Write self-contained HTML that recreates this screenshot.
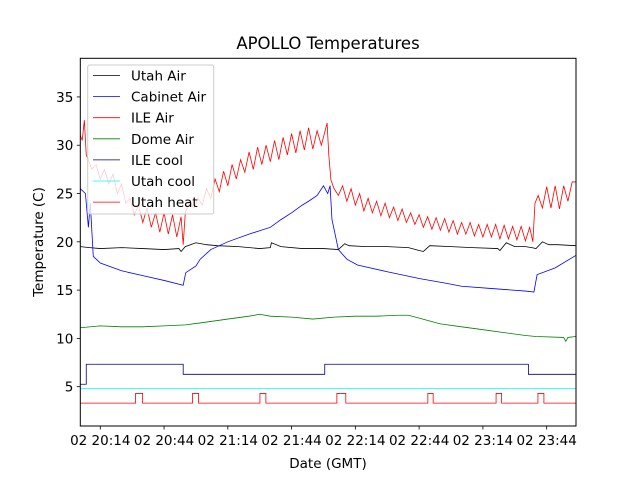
<!DOCTYPE html>
<html><head><meta charset="utf-8"><style>
html,body{margin:0;padding:0;background:#fff;}
svg{display:block;font-family:"DejaVu Sans","Liberation Sans",sans-serif;}
</style></head><body>
<svg id="chart" width="640" height="480" viewBox="0 0 640 480" xmlns="http://www.w3.org/2000/svg">
<rect width="640" height="480" fill="#fff"/>
<text x="328" y="49" font-size="16.5" text-anchor="middle">APOLLO Temperatures</text>
<text transform="translate(43,242) rotate(-90)" font-size="13.5" text-anchor="middle">Temperature (C)</text>
<text x="328" y="468" font-size="13.5" text-anchor="middle">Date (GMT)</text>
<g id="plot"></g>
<g id="axes"></g>
<g id="legend"></g>
</svg>
<script>
// minutes relative to 02 20:14
const xTickLabels = ["02 20:14","02 20:44","02 21:14","02 21:44","02 22:14","02 22:44","02 23:14","02 23:44"];
const xTickMinutes = [0,30,60,90,120,150,180,210];
const yTicks = [5,10,15,20,25,30,35];

const utahAirT = [-9.4,-5,0,10,20,30,37,38,40,45,50,55,65,75,80,80.5,85,95,105,112,115,117,125,135,145,150,152,155,165,175,187,188,191,195,200,203,205,208,211,215,223.8];
const utahAirV = [19.5,19.4,19.3,19.4,19.3,19.2,19.3,19.0,19.5,19.9,19.7,19.6,19.5,19.3,19.4,19.9,19.5,19.3,19.3,19.2,19.8,19.6,19.5,19.5,19.4,19.1,19.0,19.6,19.5,19.4,19.3,19.1,19.9,19.5,19.5,19.4,19.3,20.0,19.7,19.7,19.6];

const cabinetAirT = [-9.4,-7,-5.6,-4.7,-3.3,0,5,10,20,30,39,40.2,45,47,52,60,70,80,85,90,95,98,102,105,107,108.1,109,112,116,121,135,150,163,170,182,200,204,205.5,214,223.8];
const cabinetAirV = [25.5,25,21.5,24,18.5,17.8,17.4,17.0,16.5,16.0,15.5,16.8,17.5,18.2,19.2,20,20.8,21.5,22.3,23,23.8,24.2,24.8,25.8,25,25.8,22.3,19.2,18.2,17.6,16.9,16.2,15.7,15.4,15.2,14.9,14.8,16.6,17.3,18.6];

const ileAirT = [-9.4,-8.5,-7.5,-6.6,-5.6,-4,-2,0,2,4,6,8,10,12,14,16,18,20,22,24,26,28,30,32,34,36,38,39,
 40,42,44,46,48,50,52,54,56,58,60,62,64,66,68,70,72,74,76,78,80,82,84,86,88,90,92,94,96,98,100,102,104,106.7,
 107.5,108.5,110,112,114,116,118,120,122,124,126,128,130,132,134,136,138,140,142,144,146,148,150,152,154,156,158,160,162,164,166,168,170,172,174,176,178,180,182,184,186,188,190,192,194,196,198,200,202,203.5,
 204.5,206,208,210,212,214,216,218,220,222,223.8];
const ileAirV = [31,30.5,32.6,29,28.5,27.5,28,26.5,27.5,26,27,25,26,24,24.5,22.8,23.8,22,23.5,21.5,23,21,23,20.8,22.8,20.5,22.6,19.7,
 23,24.2,23.5,24.5,23.8,25.5,24.5,26.5,25.2,27.3,25.8,28,26.5,28.5,27.2,29.3,27.5,29.8,28,30,28.3,30.5,28.5,30.8,29,31.2,29.2,31.5,29.5,31.8,29.6,31.5,30,32.3,
 29,26.4,25.5,24.8,25.8,24.2,25.5,23.8,25,23.2,24.5,23,24.2,22.7,24,22.5,23.6,22.2,23.4,22,23,21.8,22.8,21.5,22.6,21.3,22.5,21.2,22.4,21,22.2,20.8,22,20.8,22,20.6,21.8,20.5,21.8,20.5,21.8,20.3,21.7,20.3,21.6,20.2,21.6,20.1,21.5,20,
 24,24.8,23.5,25.7,23.5,25.8,23.4,25.8,24.2,26.2,26.2];

const domeAirT = [-9.4,0,10,20,30,40,47,60,70,75,80,90,100,110,120,130,140,145,150,160,170,180,190,200,205,218,219,220,223.8];
const domeAirV = [11.1,11.3,11.2,11.2,11.3,11.4,11.6,12.0,12.3,12.5,12.3,12.2,12.0,12.2,12.3,12.3,12.4,12.4,12.1,11.5,11.2,10.9,10.6,10.3,10.2,10.1,9.7,10.1,10.2];

const ileCoolT = [-9.4,-6.6,-6.6,39,39,105.6,105.6,201.4,201.4,223.8];
const ileCoolV = [5.25,5.25,7.32,7.32,6.28,6.28,7.32,7.32,6.28,6.28];

const utahCoolT = [-9.4,223.8];
const utahCoolV = [4.8,4.8];

const heatOnT = [16.6,43.4,75.1,111.3,154.1,186.2,205.9];
const heatOffT = [19.9,46.2,77.9,115.5,156.6,188.8,208.7];
const heatLow = 3.3, heatHigh = 4.3;

const X0=80.3, X1=576, Y0=58.3, Y1=426;
const xMin=-9.4, xMax=223.8, yMin=0.93, yMax=39.0;
const sx = t => X0 + (t-xMin)/(xMax-xMin)*(X1-X0);
const sy = v => Y1 - (v-yMin)/(yMax-yMin)*(Y1-Y0);
const NS="http://www.w3.org/2000/svg";
const plot=document.getElementById('plot');
const axes=document.getElementById('axes');
const legend=document.getElementById('legend');
function mk(tag,attrs,parent){const e=document.createElementNS(NS,tag);for(const k in attrs)e.setAttribute(k,attrs[k]);parent.appendChild(e);return e;}
function line(T,V,color,name){
  const p=mk('polyline',{points:T.map((t,i)=>sx(t).toFixed(2)+','+sy(V[i]).toFixed(2)).join(' '),fill:'none',stroke:color,'stroke-width':0.8},plot);
  
  
}
// clip
const cp=mk('clipPath',{id:'clip'},document.getElementById('chart'));
mk('rect',{x:X0,y:Y0,width:X1-X0,height:Y1-Y0},cp);
plot.setAttribute('clip-path','url(#clip)');

line(utahAirT,utahAirV,'#000','utah-air-line');
line(cabinetAirT,cabinetAirV,'#0000ff','cabinet-air-line');
line(ileAirT,ileAirV,'#ff0000','ile-air-line');
line(domeAirT,domeAirV,'#008000','dome-air-line');
line(ileCoolT,ileCoolV,'#000080','ile-cool-line');
line(utahCoolT,utahCoolV,'#00ffff','utah-cool-line');
// utah heat step
const hT=[xMin], hV=[heatLow];
for(let i=0;i<heatOnT.length;i++){hT.push(heatOnT[i],heatOnT[i],heatOffT[i],heatOffT[i]);hV.push(heatLow,heatHigh,heatHigh,heatLow);}
hT.push(xMax);hV.push(heatLow);
line(hT,hV,'#ff0000','utah-heat-line');

// axes frame
const fr=mk('rect',{x:X0,y:Y0,width:X1-X0,height:Y1-Y0,fill:'none',stroke:'#000','stroke-width':1},axes);


yTicks.forEach(v=>{
  const y=sy(v);
  mk('line',{x1:X0-3.5,x2:X0,y1:y,y2:y,stroke:'#000','stroke-width':0.8},axes);
  const t=mk('text',{x:X0-7,y:y+5,'font-size':13.5,'text-anchor':'end'},axes);
  t.textContent=v;
  
  
});
xTickMinutes.forEach((m,i)=>{
  const x=sx(m);
  mk('line',{x1:x,x2:x,y1:Y1,y2:Y1+3.5,stroke:'#000','stroke-width':0.8},axes);
  const t=mk('text',{x:x,y:Y1+19,'font-size':13.5,'text-anchor':'middle'},axes);
  t.textContent=xTickLabels[i];
  
  
});

// legend
const legNames=["Utah Air","Cabinet Air","ILE Air","Dome Air","ILE cool","Utah cool","Utah heat"];
const legColors=["#000","#0000ff","#ff0000","#008000","#000080","#00ffff","#ff0000"];
mk('rect',{x:87.7,y:65,width:126,height:149,rx:2,fill:'rgba(255,255,255,0.8)',stroke:'#cccccc','stroke-width':1},legend);
legNames.forEach((n,i)=>{
  const y=75.5+i*21.1;
  const l=mk('line',{x1:93,x2:120,y1:y,y2:y,stroke:legColors[i],'stroke-width':0.8},legend);
  
  
  const t=mk('text',{x:131,y:y+5,'font-size':13.5},legend);
  t.textContent=n;
  
  
});
</script>
</body></html>
